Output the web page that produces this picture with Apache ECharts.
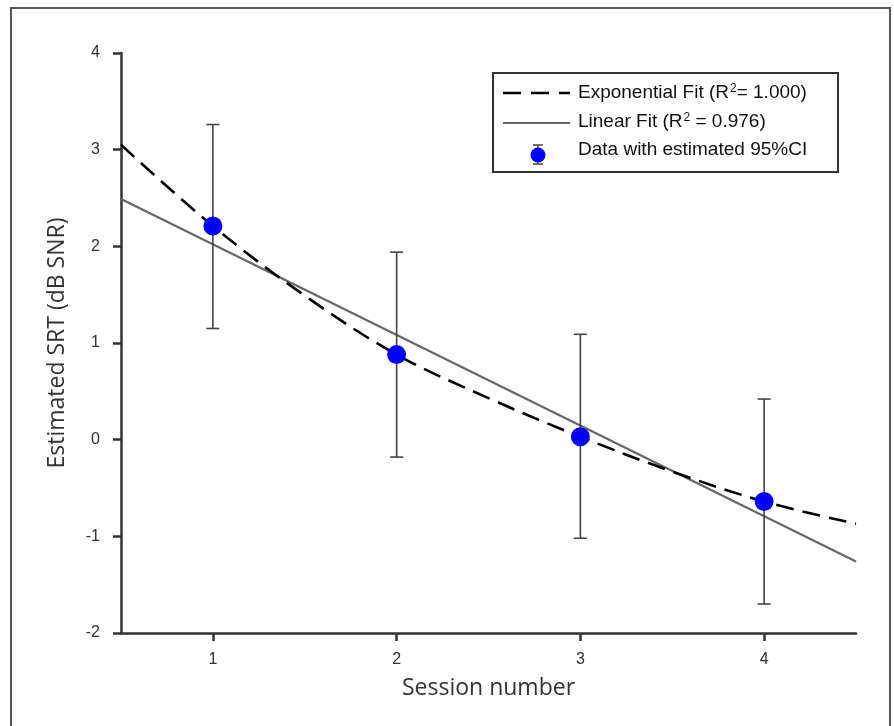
<!DOCTYPE html>
<html>
<head>
<meta charset="utf-8">
<script src="https://cdn.jsdelivr.net/npm/echarts@6/dist/echarts.min.js"></script>
<style>
html,body{margin:0;padding:0;background:#fff;}
#chart{width:894px;height:726px;}
</style>
</head>
<body>
<div id="chart"></div>
<script>
// ---- data ----
const sessions = [1, 2, 3, 4];
const srt = [2.21, 0.88, 0.03, -0.64];
const ciLow = [1.15, -0.18, -1.02, -1.70];
const ciHigh = [3.26, 1.94, 1.09, 0.42];

const linFitX = [0.5, 4.5];
const linFitY = [2.49, -1.26];

const expFitX = [0.5, 1, 1.5, 2, 2.5, 3, 3.5, 4, 4.5];
const expFitY = [3.05, 2.21, 1.49, 0.88, 0.43, 0.03, -0.33, -0.64, -0.87];

const xTicks = [1, 2, 3, 4];
const yMin = -2, yMax = 4, yStep = 1;
const xMin = 0.5, xMax = 4.5;

const legendLabels = [
  'Exponential Fit (R{sup|2}= 1.000)',
  'Linear Fit (R{sup|2} = 0.976)',
  'Data with estimated 95%CI'
];
const xName = 'Session number';
const yName = 'Estimated SRT (dB SNR)';

// ---- build chart ----
const chart = echarts.init(document.getElementById('chart'), null, {renderer: 'canvas'});

const zip = (a, b) => a.map((v, i) => [v, b[i]]);
const errData = sessions.map((s, i) => [s, ciLow[i], ciHigh[i]]);

const axisCol = '#333';
const tickFont = {fontFamily: 'Liberation Sans, Arial, sans-serif', fontSize: 16, color: '#333'};
const legFont = 'Liberation Sans, Arial, sans-serif';
const supStyle = {fontSize: 12, verticalAlign: 'top', lineHeight: 12, fontFamily: legFont, fill: '#111', color: '#111', padding: [0, 0, 0, 1]};

const option = {
  animation: false,
  backgroundColor: '#fff',
  grid: {left: 121, right: 38, top: 53, bottom: 93, containLabel: false},
  xAxis: {
    type: 'value', min: xMin, max: xMax,
    name: xName, nameLocation: 'middle', nameGap: 44,
    nameTextStyle: {fontFamily: 'Open Sans, sans-serif', fontSize: 23, color: '#333'},
    axisLine: {show: true, onZero: false, lineStyle: {color: axisCol, width: 2.5}},
    axisTick: {show: true, inside: false, length: 8, lineStyle: {color: axisCol, width: 2.5}, customValues: xTicks},
    axisLabel: Object.assign({margin: 19, customValues: xTicks}, tickFont),
    splitLine: {show: false}
  },
  yAxis: {
    type: 'value', min: yMin, max: yMax, interval: yStep,
    name: yName, nameLocation: 'middle', nameGap: 52, nameRotate: 90,
    nameTextStyle: {fontFamily: 'Open Sans, sans-serif', fontSize: 23, color: '#333'},
    axisLine: {show: true, onZero: false, lineStyle: {color: axisCol, width: 2.5}},
    axisTick: {show: true, inside: false, length: 8, lineStyle: {color: axisCol, width: 2.5}},
    axisLabel: Object.assign({margin: 21}, tickFont),
    splitLine: {show: false}
  },
  series: [
    {
      name: 'Linear Fit', type: 'line', data: zip(linFitX, linFitY),
      symbol: 'none', z: 2,
      lineStyle: {color: '#666', width: 2.2}
    },
    {
      name: 'Exponential Fit', type: 'line', data: zip(expFitX, expFitY),
      symbol: 'none', smooth: 0.35, z: 3,
      lineStyle: {color: '#000', width: 2.6, type: [18, 9]}
    },
    {
      name: 'CI', type: 'custom', z: 4, data: errData,
      renderItem: function (params, api) {
        const x = api.value(0);
        const top = api.coord([x, api.value(2)]);
        const bot = api.coord([x, api.value(1)]);
        const hw = 6.5;
        const st = {stroke: '#444', lineWidth: 1.6};
        return {
          type: 'group',
          children: [
            {type: 'line', shape: {x1: top[0], y1: top[1], x2: bot[0], y2: bot[1]}, style: st},
            {type: 'line', shape: {x1: top[0] - hw, y1: top[1], x2: top[0] + hw, y2: top[1]}, style: st},
            {type: 'line', shape: {x1: bot[0] - hw, y1: bot[1], x2: bot[0] + hw, y2: bot[1]}, style: st}
          ]
        };
      }
    },
    {
      name: 'Data', type: 'scatter', data: zip(sessions, srt), z: 5,
      symbol: 'circle', symbolSize: 19,
      itemStyle: {color: '#0000ff', opacity: 1}
    }
  ],
  graphic: [
    // outer frame
    {type: 'rect', shape: {x: 11, y: 8, width: 879, height: 740}, style: {fill: 'none', stroke: '#555', lineWidth: 2}, z: 1, silent: true},
    // legend box
    {type: 'rect', shape: {x: 493, y: 73, width: 345, height: 99}, style: {fill: '#fff', stroke: '#333', lineWidth: 2}, z: 10},
    {type: 'line', shape: {x1: 503, y1: 93, x2: 570, y2: 93}, style: {stroke: '#000', lineWidth: 2.6, lineDash: [18, 10]}, z: 11},
    {type: 'text', x: 578, y: 93, z: 11, style: {
      text: legendLabels[0], fontFamily: legFont, fontSize: 19, fill: '#111',
      verticalAlign: 'middle', lineHeight: 21, rich: {sup: supStyle}
    }},
    {type: 'line', shape: {x1: 503, y1: 123, x2: 570, y2: 123}, style: {stroke: '#666', lineWidth: 2}, z: 11},
    {type: 'text', x: 578, y: 122, z: 11, style: {
      text: legendLabels[1], fontFamily: legFont, fontSize: 19, fill: '#111',
      verticalAlign: 'middle', lineHeight: 21, rich: {sup: supStyle}
    }},
    {type: 'line', shape: {x1: 538, y1: 145, x2: 538, y2: 164}, style: {stroke: '#444', lineWidth: 1.5}, z: 11},
    {type: 'line', shape: {x1: 533, y1: 145, x2: 543, y2: 145}, style: {stroke: '#444', lineWidth: 1.5}, z: 11},
    {type: 'line', shape: {x1: 533, y1: 164, x2: 543, y2: 164}, style: {stroke: '#444', lineWidth: 1.5}, z: 11},
    {type: 'circle', shape: {cx: 538, cy: 155, r: 7.5}, style: {fill: '#0000ff'}, z: 12},
    {type: 'text', x: 578, y: 150, z: 11, style: {
      text: legendLabels[2], fontFamily: legFont, fontSize: 19, fill: '#111', verticalAlign: 'middle'
    }}
  ]
};
chart.setOption(option);
</script>
</body>
</html>
